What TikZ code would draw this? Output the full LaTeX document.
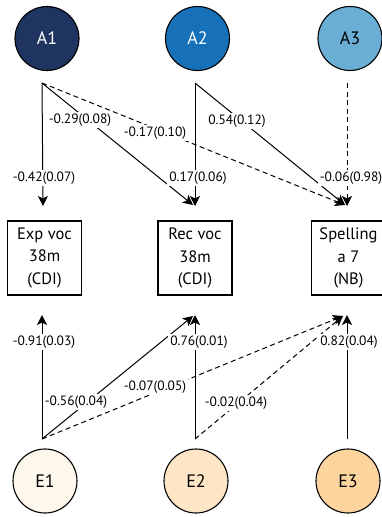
\documentclass[tikz,border=0pt]{standalone}
\usepackage{fontspec}
\setmainfont{PT Sans}
\usetikzlibrary{arrows.meta}
\definecolor{aone}{RGB}{31,52,96}
\definecolor{atwo}{RGB}{23,113,185}
\definecolor{athree}{RGB}{106,174,214}
\definecolor{eone}{RGB}{254,247,236}
\definecolor{etwo}{RGB}{253,229,198}
\definecolor{ethree}{RGB}{252,212,158}
\tikzset{
  latent/.style={circle, draw=black, line width=1.1pt, minimum size=64pt, inner sep=0pt, font=\fontsize{18}{20}\selectfont},
  measure/.style={draw=black, line width=1.1pt, minimum width=74pt, minimum height=74pt, inner sep=0pt, align=center, font=\fontsize{16.5}{22.5}\selectfont},
  path/.style={line width=1pt, -{Stealth[length=10pt,width=10pt,inset=2.5pt]}},
  weak/.style={path, dash pattern=on 5pt off 3.5pt},
  coef/.style={fill=white, inner sep=2pt, font=\fontsize{13.5}{14}\selectfont}
}
\begin{document}
\begin{tikzpicture}[x=1pt,y=-1pt]
\useasboundingbox (0,0) rectangle (382,517);

% latent factors
\node[latent, fill=aone, text=white] (A1) at (47,38.5) {A1};
\node[latent, fill=atwo, text=white] (A2) at (197.5,38.5) {A2};
\node[latent, fill=athree] (A3) at (350,38.5) {A3};
\node[latent, fill=eone] (E1) at (45,481) {E1};
\node[latent, fill=etwo] (E2) at (196,481) {E2};
\node[latent, fill=ethree] (E3) at (348,481) {E3};

% outcome measures
\node[measure] (EV) at (44.5,258) {Exp voc\\38m\\(CDI)};
\node[measure] (RV) at (195,258) {Rec voc\\38m\\(CDI)};
\node[measure] (SP) at (348.5,258) {Spelling\\a 7\\(NB)};

% path origins and arrow tips
\coordinate (a1o) at (42,83);
\coordinate (a2o) at (195,83);
\coordinate (a3o) at (347,83);
\coordinate (e1o) at (42,439);
\coordinate (e2o) at (195,439);
\coordinate (e3o) at (347,439);
\coordinate (evt) at (43,206);
\coordinate (rvt) at (195,206);
\coordinate (rvd) at (193,205);
\coordinate (spt) at (347,206);
\coordinate (spd) at (345,205);
\coordinate (evb) at (42,315);
\coordinate (rvb) at (195,315);
\coordinate (rvu) at (193,316);
\coordinate (spb) at (347,315);
\coordinate (spu) at (343,316);

% paths from A
\draw[path] (a1o) -- (evt);
\draw[path] (a1o) -- (rvd);
\draw[weak] (a1o) -- (spd);
\draw[path] (a2o) -- (rvt);
\draw[path] (a2o) -- (spd);
\draw[weak] (a3o) -- (spt);

% paths from E
\draw[path] (e1o) -- (evb);
\draw[path] (e1o) -- (rvu);
\draw[weak] (e1o) -- (spu);
\draw[path] (e2o) -- (rvb);
\draw[weak] (e2o) -- (spu);
\draw[path] (e3o) -- (spb);

% estimates
\node[coef] (l1) at (44,178) {-0.42(0.07)};
\node[coef] (l2) at (80,120) {-0.29(0.08)};
\node[coef] (l3) at (155,133) {-0.17(0.10)};
\node[coef] (l4) at (198,178) {0.17(0.06)};
\node[coef] (l5) at (237,121) {0.54(0.12)};
\node[coef] (l6) at (351,178) {-0.06(0.98)};
\node[coef] (l7) at (44,342) {-0.91(0.03)};
\node[coef] (l8) at (199,342) {0.76(0.01)};
\node[coef] (l9) at (349,342) {0.82(0.04)};
\node[coef] (l10) at (76,402) {-0.56(0.04)};
\node[coef] (l11) at (155,387) {-0.07(0.05)};
\node[coef] (l12) at (236,403) {-0.02(0.04)};
\end{tikzpicture}
\end{document}
